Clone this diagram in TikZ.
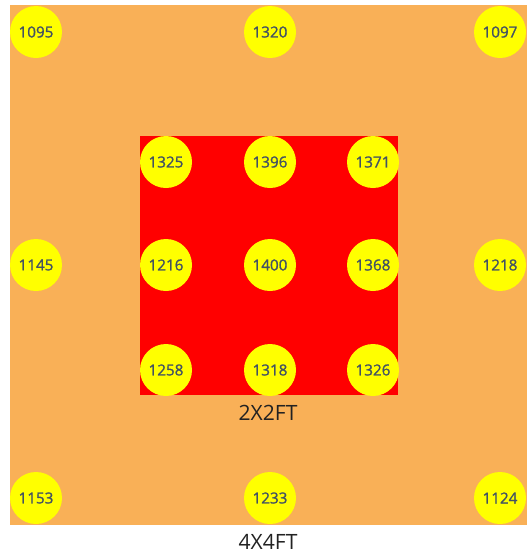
\documentclass[tikz,border=0pt]{standalone}
\usepackage{fontspec}
\setmainfont{Open Sans}
\newfontfamily\padfont[FakeBold=1.2]{Open Sans}
\usetikzlibrary{positioning}
\definecolor{slabor}{RGB}{249,176,87}
\definecolor{coreRed}{RGB}{255,0,0}
\definecolor{padYel}{RGB}{255,255,0}
\definecolor{valtext}{RGB}{66,82,100}
\definecolor{captext}{RGB}{34,34,34}
\begin{document}
\begin{tikzpicture}[x=0.03cm,y=-0.03cm,
  pad/.style={circle,fill=padYel,minimum size=1.56cm,inner sep=0pt,
              font=\padfont\fontsize{13}{15}\selectfont,text=valtext},
  sizelbl/.style={font=\fontsize{18}{21}\selectfont,text=captext}]
\useasboundingbox[fill=white] (0,0) rectangle (527,553);
% outer 4x4 ft area
\fill[slabor] (10,5) rectangle (527,525);
% inner 2x2 ft area
\fill[coreRed] (140,136) rectangle (398,395);
% outer readings
\node[pad](o1) at (36,32)   {1095};
\node[pad](o2) at (270,32)  {1320};
\node[pad](o3) at (500,32)  {1097};
\node[pad](o4) at (36,265)  {1145};
\node[pad](o5) at (500,265) {1218};
\node[pad](o6) at (36,498)  {1153};
\node[pad](o7) at (270,498) {1233};
\node[pad](o8) at (500,498) {1124};
% inner readings
\node[pad](i1) at (166,162) {1325};
\node[pad](i2) at (270,162) {1396};
\node[pad](i3) at (373,162) {1371};
\node[pad](i4) at (166,265) {1216};
\node[pad](i5) at (270,265) {1400};
\node[pad](i6) at (373,265) {1368};
\node[pad](i7) at (166,370) {1258};
\node[pad](i8) at (270,370) {1318};
\node[pad](i9) at (373,370) {1326};
% size labels
\node[sizelbl](small) at (268,413) {2X2FT};
\node[sizelbl](big)   at (268,542) {4X4FT};
\end{tikzpicture}
\end{document}
